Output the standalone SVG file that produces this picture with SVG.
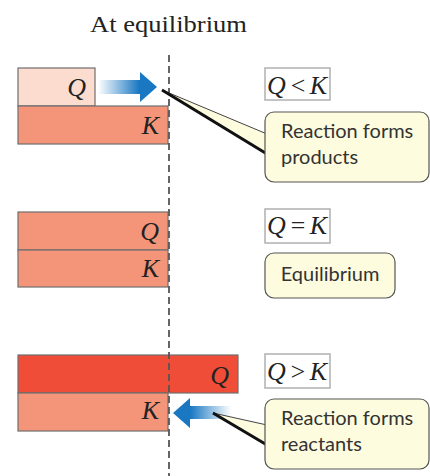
<svg xmlns="http://www.w3.org/2000/svg" width="430" height="476" viewBox="0 0 430 476">
<defs>
<linearGradient id="gR" x1="0" y1="0" x2="1" y2="0"><stop offset="0" stop-color="#1a78c2" stop-opacity="0"/><stop offset="0.7" stop-color="#1a78c2"/><stop offset="1" stop-color="#1a78c2"/></linearGradient>
<linearGradient id="gL" x1="1" y1="0" x2="0" y2="0"><stop offset="0" stop-color="#1a78c2" stop-opacity="0"/><stop offset="0.7" stop-color="#1a78c2"/><stop offset="1" stop-color="#1a78c2"/></linearGradient>
<style>
.bar{stroke:#6e6e6e;stroke-width:1.2}
.lt{fill:#fcdccf}.md{fill:#f4957a}.dk{fill:#ef4d37}
.var{font-family:"Liberation Serif",serif;font-style:italic;font-size:26px;fill:#222}
.rel{font-family:"Liberation Serif",serif;font-style:italic;font-size:26px;fill:#222}
.relbox{fill:#fff;stroke:#b0b0b0;stroke-width:1.5}
.call{fill:#fefcdf;stroke:#555;stroke-width:1.2}
.ct{font-family:Lato,"Liberation Sans",sans-serif;font-size:20px;fill:#333}
.tail{fill:#fefcdf;stroke:#444;stroke-width:1}
.title{font-family:"Liberation Serif",serif;font-size:23px;fill:#222}
</style>
</defs>
<text class="title" x="90" y="32" textLength="157" lengthAdjust="spacingAndGlyphs">At equilibrium</text>

<g id="row1">
<rect class="bar lt" x="18" y="68" width="77" height="38"/>
<rect class="bar md" x="18" y="106" width="150" height="38"/>
<text class="var" x="86" y="96" text-anchor="end">Q</text>
<text class="var" x="159" y="134" text-anchor="end">K</text>
</g>
<g id="row2">
<rect class="bar md" x="18" y="212" width="150" height="38"/>
<rect class="bar md" x="18" y="250" width="150" height="37"/>
<text class="var" x="159" y="240" text-anchor="end">Q</text>
<text class="var" x="159" y="277" text-anchor="end">K</text>
</g>
<g id="row3">
<rect class="bar dk" x="18" y="355" width="220" height="38"/>
<rect class="bar md" x="18" y="393" width="150" height="38"/>
<text class="var" x="229" y="384" text-anchor="end">Q</text>
<text class="var" x="159" y="419" text-anchor="end">K</text>
</g>

<g id="connectors">
<line x1="169" y1="55" x2="169" y2="476" stroke="#555" stroke-width="1.8" stroke-dasharray="7,4"/>
<polygon fill="url(#gR)" points="98,80 140,80 140,72 157,87 140,102 140,94 98,94"/>
<polygon fill="url(#gL)" points="231,406 190,406 190,398 173,413 190,428 190,419 231,419"/>
</g>

<g id="rel1"><rect class="relbox" x="265" y="68" width="65" height="32"/><text class="rel" x="267" y="94" textLength="60" lengthAdjust="spacing">Q&lt;K</text></g>
<g id="rel2"><rect class="relbox" x="265" y="209" width="65" height="34"/><text class="rel" x="267" y="234" textLength="60" lengthAdjust="spacing">Q=K</text></g>
<g id="rel3"><rect class="relbox" x="265" y="354" width="65" height="34"/><text class="rel" x="267" y="380" textLength="60" lengthAdjust="spacing">Q&gt;K</text></g>

<g id="callout1">
<polygon class="tail" points="162,90 267,134 267,154"/>
<line x1="162" y1="90" x2="267" y2="154" stroke="#111" stroke-width="3"/>
<rect class="call" x="265" y="112" width="164" height="70" rx="9"/>
<text class="ct" x="281" y="138">Reaction forms</text>
<text class="ct" x="281" y="164">products</text>
</g>
<g id="callout2">
<rect class="call" x="265" y="253" width="130" height="45" rx="9"/>
<text class="ct" x="330" y="281" text-anchor="middle">Equilibrium</text>
</g>
<g id="callout3">
<polygon class="tail" points="213,413 267,425 267,445"/>
<line x1="213" y1="413" x2="267" y2="445" stroke="#111" stroke-width="3"/>
<rect class="call" x="265" y="399" width="164" height="70" rx="9"/>
<text class="ct" x="281" y="425">Reaction forms</text>
<text class="ct" x="281" y="451">reactants</text>
</g>
</svg>
